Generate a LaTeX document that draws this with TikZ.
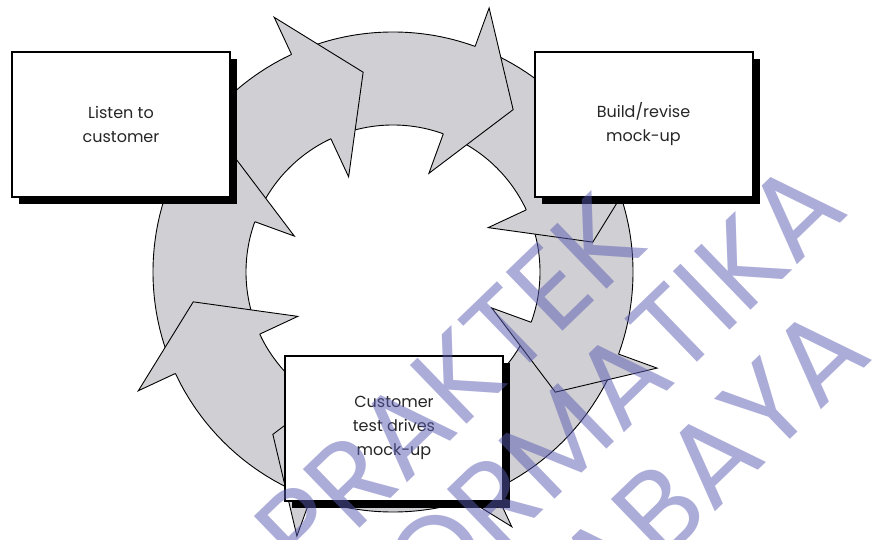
\documentclass[tikz,border=0pt]{standalone}
\usepackage{fontspec}
\setmainfont{Poppins}
\usepackage{tikz}
\usetikzlibrary{shadows}
\definecolor{ringgray}{RGB}{208,207,211}
\definecolor{wmblue}{RGB}{90,90,180}
\tikzset{mockbox/.style={draw,line width=2pt,fill=white,minimum width=218pt,
           minimum height=145pt,align=center,text=black!85,
           font=\fontsize{16}{24}\selectfont,
           drop shadow={shadow xshift=7pt,shadow yshift=-7pt,fill=black,opacity=1}},
         mark text/.style={text=wmblue,opacity=0.5,rotate=44,inner sep=0pt,
           font=\fontsize{117}{117}\selectfont}}

\begin{document}
\begin{tikzpicture}[x=1pt,y=1pt]
    \useasboundingbox (0,0) rectangle (881,539);

    % the ring of arrows
    \begin{scope}[shift={(393,267)},line width=0.9pt]
    \fill[ringgray,even odd rule] (0,0) circle (240) (0,0) circle (147);
    \draw (0,0) circle (240); \draw (0,0) circle (147);

    \fill[ringgray] (115:281) -- (98.5:202) -- (115:105) -- cycle;
    \draw (115:240) -- (115:281) -- (98.5:202) -- (115:105) -- (115:147);
    \fill[ringgray] (70:281) -- (53.5:202) -- (70:105) -- cycle;
    \draw (70:240) -- (70:281) -- (53.5:202) -- (70:105) -- (70:147);
    \fill[ringgray] (25:281) -- (8.5:202) -- (25:105) -- cycle;
    \draw (25:240) -- (25:281) -- (8.5:202) -- (25:105) -- (25:147);
    \fill[ringgray] (-20:281) -- (-36.5:202) -- (-20:105) -- cycle;
    \draw (-20:240) -- (-20:281) -- (-36.5:202) -- (-20:105) -- (-20:147);
    \fill[ringgray] (-65:281) -- (-81.5:202) -- (-65:105) -- cycle;
    \draw (-65:240) -- (-65:281) -- (-81.5:202) -- (-65:105) -- (-65:147);
    \fill[ringgray] (-110:281) -- (-126.5:202) -- (-110:105) -- cycle;
    \draw (-110:240) -- (-110:281) -- (-126.5:202) -- (-110:105) -- (-110:147);
    \fill[ringgray] (-155:281) -- (-171.5:202) -- (-155:105) -- cycle;
    \draw (-155:240) -- (-155:281) -- (-171.5:202) -- (-155:105) -- (-155:147);
    \fill[ringgray] (160:281) -- (143.5:202) -- (160:105) -- cycle;
    \draw (160:240) -- (160:281) -- (143.5:202) -- (160:105) -- (160:147);
    \end{scope}

    \node[mockbox] (listen) at (121,414.5) {Listen to\\customer};
    \node[mockbox] (build) at (643.5,414.5) {Build/revise\\mock-up};
    \node[mockbox] (test) at (394,111) {Customer\\test drives\\mock-up};

    % watermark
    \coordinate (m1) at (449,154); \coordinate (m2) at (552,93.5);
    \coordinate (m3) at (633,4);
    \node[mark text] (wm1) at (m1) {PRAKTEK};
    \node[mark text] (wm2) at (m2) {INFORMATIKA};
    \node[mark text] (wm3) at (m3) {SURABAYA};
\end{tikzpicture}
\end{document}
